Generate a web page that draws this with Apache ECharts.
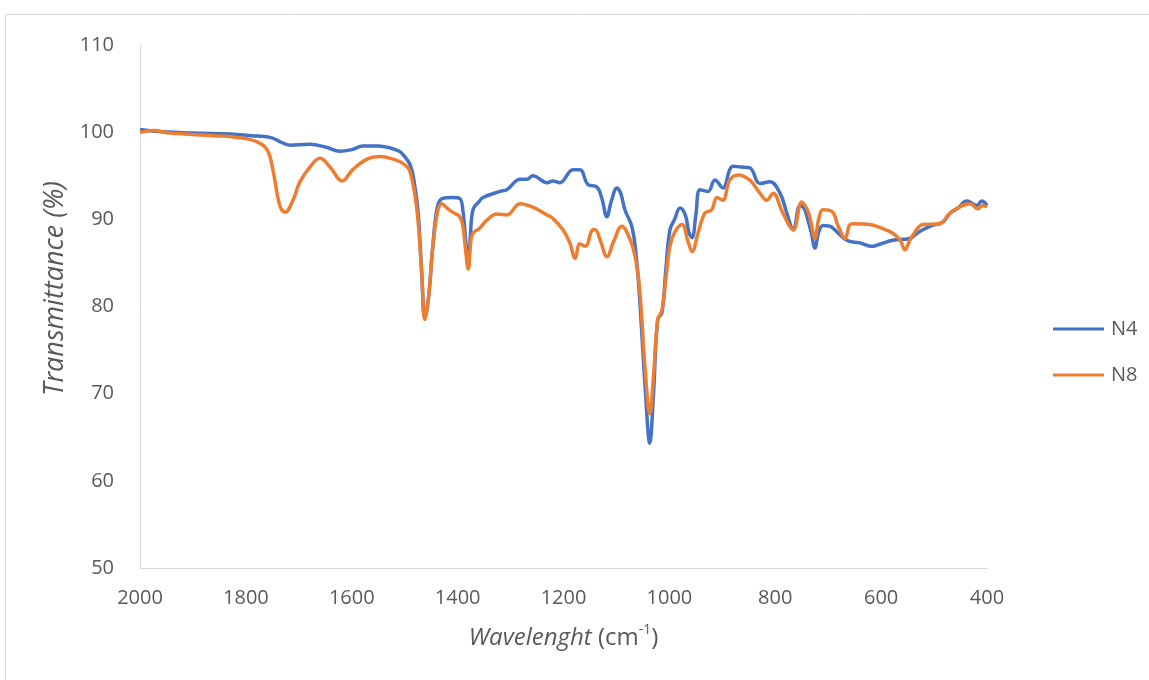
<!DOCTYPE html>
<html>
<head>
<meta charset="utf-8">
<script src="https://cdn.jsdelivr.net/npm/echarts@6/dist/echarts.min.js"></script>
<style>html,body{margin:0;padding:0;background:#fff;}#c{width:1149px;height:680px;}</style>
</head>
<body>
<div id="c"></div>
<script>
var seriesNames = ['N4', 'N8'];
var xTicks = [2000, 1800, 1600, 1400, 1200, 1000, 800, 600, 400];
var yTicks = [50, 60, 70, 80, 90, 100, 110];

// N4: [wavenumber, transmittance]
var n4 = [
[2000,100.3],[1972,100.1],[1900,99.9],[1830,99.8],[1790,99.6],[1754,99.4],[1735,98.9],[1717,98.5],
[1679,98.6],[1650,98.3],[1622,97.8],[1600,98.0],[1579,98.4],[1550,98.4],[1528,98.2],[1510,97.8],
[1500,97.2],[1490,96.3],[1484,95.0],[1475,91.0],[1468,84.0],[1462,78.7],[1455,81.0],[1447,86.8],
[1438,91.5],[1428,92.4],[1410,92.5],[1396,92.4],[1390,91.0],[1384,87.0],[1380,84.5],[1376,88.0],
[1371,91.1],[1360,92.0],[1352,92.5],[1320,93.2],[1307,93.4],[1282,94.6],[1269,94.6],[1258,95.0],
[1231,94.2],[1220,94.4],[1207,94.2],[1182,95.7],[1169,95.7],[1154,94.0],[1137,93.7],[1128,92.5],
[1118,90.3],[1110,92.0],[1099,93.6],[1092,93.0],[1084,91.1],[1071,89.2],[1063,86.0],[1056,80.7],
[1045,70.0],[1037,64.3],[1030,70.0],[1022,78.5],[1014,79.3],[1007,84.0],[999,88.8],[990,90.0],
[980,91.3],[970,90.5],[963,88.5],[957,87.9],[950,90.5],[942,93.4],[927,93.2],[914,94.5],
[899,93.6],[886,95.7],[880,96.1],[865,96.0],[848,95.9],[829,94.1],[810,94.3],[791,93.0],
[778,90.7],[766,88.8],[753,91.6],[745,91.2],[740,90.3],[732,88.5],[725,86.7],[718,88.5],
[710,89.3],[697,89.2],[691,89.0],[665,87.6],[640,87.3],[617,86.9],[600,87.2],[578,87.6],
[546,87.8],[530,88.5],[508,89.2],[483,89.7],[470,90.7],[455,91.3],[438,92.1],[419,91.6],
[410,92.1],[400,91.6]
];

// N8: [wavenumber, transmittance]
var n8 = [
[2000,100.0],[1975,100.2],[1943,99.9],[1862,99.6],[1817,99.4],[1779,98.9],[1760,98.0],[1749,95.7],
[1736,91.6],[1726,90.8],[1711,92.2],[1698,94.3],[1679,96.0],[1660,97.0],[1641,96.0],[1618,94.4],
[1598,95.7],[1571,96.9],[1547,97.2],[1522,96.9],[1503,96.4],[1490,95.5],[1477,91.1],[1468,84.0],
[1462,78.5],[1455,81.0],[1447,86.8],[1438,90.8],[1430,91.8],[1420,91.3],[1409,90.8],[1396,90.3],
[1390,89.2],[1385,86.5],[1380,84.3],[1375,87.5],[1371,88.4],[1358,89.0],[1345,89.9],[1326,90.6],
[1307,90.5],[1282,91.8],[1258,91.4],[1231,90.5],[1220,90.1],[1201,88.8],[1188,87.3],[1178,85.5],
[1169,87.2],[1159,86.9],[1144,88.8],[1140,88.8],[1130,87.5],[1118,85.7],[1105,87.5],[1090,89.2],
[1075,87.8],[1064,85.5],[1056,81.9],[1046,73.0],[1037,67.7],[1030,72.0],[1022,78.5],[1014,79.6],
[1007,83.0],[999,86.9],[990,88.5],[976,89.4],[965,87.5],[957,86.3],[946,88.4],[933,90.7],
[920,91.1],[910,92.5],[899,92.2],[886,94.5],[870,95.1],[848,94.5],[829,93.0],[816,92.2],
[804,93.0],[787,90.9],[766,88.8],[750,92.0],[738,90.9],[732,89.5],[725,87.8],[718,90.0],
[710,91.1],[693,90.9],[681,89.2],[668,87.8],[660,89.3],[653,89.5],[621,89.4],[596,88.9],
[578,88.4],[564,87.6],[555,86.5],[548,87.3],[542,88.0],[521,89.4],[489,89.5],[470,90.7],
[432,91.8],[417,91.2],[408,91.6],[400,91.4]
];

var FONT = '"Open Sans", "Noto Sans", sans-serif';
var chart = echarts.init(document.getElementById('c'), null, {renderer: 'canvas'});
chart.setOption({
  animation: false,
  backgroundColor: '#ffffff',
  textStyle: {fontFamily: FONT},
  graphic: [{
    type: 'rect', left: 3, top: 12, z: -10, silent: true,
    shape: {x: 0, y: 0, width: 1170, height: 700},
    style: {fill: 'none', stroke: '#d9d9d9', lineWidth: 1}
  }],
  grid: {left: 140, right: 162, top: 45, bottom: 112, containLabel: false},
  legend: {
    orient: 'vertical', left: 1048, top: 314, itemWidth: 51, itemHeight: 3, itemGap: 26,
    icon: 'rect',
    textStyle: {fontFamily: FONT, fontSize: 20, color: '#595959', padding: [0, 0, 0, 2]},
    data: seriesNames
  },
  xAxis: {
    type: 'value', inverse: true, min: xTicks[xTicks.length - 1], max: xTicks[0], interval: 200,
    axisLine: {show: true, lineStyle: {color: '#d9d9d9', width: 1}},
    axisTick: {show: false},
    splitLine: {show: false},
    axisLabel: {fontFamily: FONT, fontSize: 20, color: '#595959', margin: 20,
      formatter: function (v) { return String(v); }},
    name: '{i|Wavelenght} {n|(cm}{s|-1}{n|)}',
    nameLocation: 'middle', nameGap: 55,
    nameTextStyle: {
      fontFamily: FONT, fontSize: 24, color: '#595959',
      rich: {
        i: {fontFamily: FONT, fontSize: 24, fontStyle: 'italic', color: '#595959', lineHeight: 30},
        n: {fontFamily: FONT, fontSize: 24, color: '#595959', lineHeight: 30},
        s: {fontFamily: FONT, fontSize: 14, color: '#595959', lineHeight: 30, verticalAlign: 'top', padding: [0, 0, 12, 0]}
      }
    }
  },
  yAxis: {
    type: 'value', min: yTicks[0], max: yTicks[yTicks.length - 1], interval: 10,
    axisLine: {show: true, lineStyle: {color: '#d9d9d9', width: 1}},
    axisTick: {show: false},
    splitLine: {show: false},
    axisLabel: {fontFamily: FONT, fontSize: 20, color: '#595959', margin: 26},
    name: 'Transmittance (%)',
    nameLocation: 'middle', nameGap: 58, nameRotate: 90,
    nameTextStyle: {fontFamily: FONT, fontSize: 27, fontStyle: 'italic', color: '#595959', padding: [0, 0, 0, 36]}
  },
  series: [
    {name: seriesNames[0], type: 'line', data: n4, showSymbol: false, smooth: 0.4,
     lineStyle: {color: '#4472C4', width: 3.5}, itemStyle: {color: '#4472C4'}, z: 2},
    {name: seriesNames[1], type: 'line', data: n8, showSymbol: false, smooth: 0.4,
     lineStyle: {color: '#ED7D31', width: 3.5}, itemStyle: {color: '#ED7D31'}, z: 3}
  ]
});
</script>
</body>
</html>
